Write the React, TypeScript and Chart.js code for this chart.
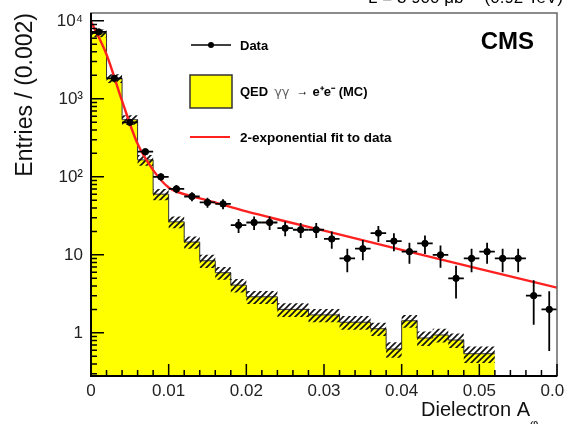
import React, { useEffect, useRef } from "react";
import { Chart, registerables } from "chart.js";

Chart.register(...registerables);

// ---------------- data ----------------
const binWidth = 0.002;
// observed entries per bin (30 bins, 0 .. 0.06)
const dataCounts = [7200, 1830, 500, 210, 100, 70, 56, 47, 45, 24, 26, 26, 22, 21, 21, 16, 9, 12, 19, 15, 11, 14, 10, 5, 9, 11, 9, 9, 3, 2];
// QED MC histogram (bins 0 .. 25, empty afterwards)
const mcValues = [6950, 1830, 540, 165, 60, 26.5, 14.6, 8.4, 5.9, 4.1, 2.9, 2.9, 2.0, 2.0, 1.7, 1.7, 1.37, 1.37, 1.13, 0.62, 1.43, 0.86, 0.94, 0.81, 0.54, 0.54];
const mcErrors = [800, 230, 75, 26, 10, 4.5, 2.6, 1.6, 1.1, 0.8, 0.55, 0.55, 0.4, 0.4, 0.33, 0.33, 0.27, 0.27, 0.22, 0.14, 0.27, 0.18, 0.19, 0.17, 0.13, 0.13];
// 2-exponential fit curve
const fitX = [0, 0.002, 0.004, 0.006, 0.008, 0.010, 0.012, 0.015, 0.020, 0.025, 0.030, 0.040, 0.050, 0.060];
const fitY = [9800, 3700, 940, 265, 122, 73, 60, 50, 36, 27, 20.4, 11.6, 6.6, 3.8];
// axes
const xTickValues = [0, 0.01, 0.02, 0.03, 0.04, 0.05, 0.06];
const xTickLabels = ["0", "0.01", "0.02", "0.03", "0.04", "0.05", "0.06"];
const yTickValues = [1, 10, 100, 1000, 10000];
const yTickLabels = ["1", "10", "10\u00B2", "10\u00B3", "10\u2074"];

const FONT = '"Liberation Sans", Arial, Helvetica, sans-serif';

function stepPoints(vals: number[]) {
  const pts = vals.map((v, i) => ({ x: i * binWidth, y: v }));
  pts.push({ x: vals.length * binWidth, y: vals[vals.length - 1] });
  return pts;
}

function makeHatch(): CanvasPattern | string {
  const c = document.createElement("canvas");
  const s = 6;
  c.width = s;
  c.height = s;
  const g = c.getContext("2d");
  if (!g) return "rgba(0,0,0,0.3)";
  g.strokeStyle = "#111";
  g.lineWidth = 1.6;
  g.beginPath();
  g.moveTo(-1, s + 1);
  g.lineTo(s + 1, -1);
  g.moveTo(-1, 1);
  g.lineTo(1, -1);
  g.moveTo(s - 1, s + 1);
  g.lineTo(s + 1, s - 1);
  g.stroke();
  const p = g.createPattern(c, "repeat");
  return p || "rgba(0,0,0,0.3)";
}

const decorPlugin = {
  id: "decor",
  afterDatasetsDraw(chart: any) {
    const { ctx, chartArea: a, scales } = chart;
    const xs = scales.x;
    const ys = scales.y;
    // error bars for data
    ctx.save();
    ctx.beginPath();
    ctx.rect(a.left, a.top, a.right - a.left, a.bottom - a.top);
    ctx.clip();
    ctx.strokeStyle = "#000";
    ctx.lineWidth = 1.8;
    dataCounts.forEach((n, i) => {
      const xc = xs.getPixelForValue((i + 0.5) * binWidth);
      const xl = xs.getPixelForValue(i * binWidth);
      const xr = xs.getPixelForValue((i + 1) * binWidth);
      const e = Math.sqrt(n);
      const yc = ys.getPixelForValue(n);
      const yt = ys.getPixelForValue(n + e);
      const yb = ys.getPixelForValue(Math.max(n - e, 0.01));
      ctx.beginPath();
      ctx.moveTo(xl, yc);
      ctx.lineTo(xr, yc);
      ctx.moveTo(xc, yt);
      ctx.lineTo(xc, Math.min(yb, a.bottom + 5));
      ctx.stroke();
    });
    ctx.restore();

    // frame
    ctx.save();
    ctx.strokeStyle = "#666";
    ctx.lineWidth = 1.5;
    ctx.strokeRect(a.left, a.top, a.right - a.left, a.bottom - a.top);
    ctx.strokeStyle = "#000";
    ctx.lineWidth = 2;
    ctx.beginPath();
    ctx.moveTo(a.left, a.top);
    ctx.lineTo(a.left, a.bottom);
    ctx.lineTo(a.right, a.bottom);
    ctx.stroke();

    // inner ticks
    ctx.lineWidth = 1.5;
    ctx.beginPath();
    for (let k = -1; k <= 4; k++) {
      for (let m = 1; m <= 9; m++) {
        const v = m * Math.pow(10, k);
        if (v < ys.min || v > ys.max) continue;
        const y = ys.getPixelForValue(v);
        const len = m === 1 ? 13 : 6;
        ctx.moveTo(a.left, y);
        ctx.lineTo(a.left + len, y);
      }
    }
    const nx = Math.round((xs.max - xs.min) / binWidth);
    for (let i = 0; i <= nx; i++) {
      const v = i * binWidth;
      const x = xs.getPixelForValue(v);
      const major = i % 5 === 0;
      ctx.moveTo(x, a.bottom);
      ctx.lineTo(x, a.bottom - (major ? 12 : 6));
    }
    ctx.stroke();
    ctx.restore();
  },
  afterDraw(chart: any) {
    const { ctx, chartArea: a } = chart;
    ctx.save();
    ctx.fillStyle = "#000";
    ctx.textBaseline = "middle";

    // legend: Data
    ctx.strokeStyle = "#000";
    ctx.lineWidth = 1.5;
    ctx.beginPath();
    ctx.moveTo(191, 45);
    ctx.lineTo(231, 45);
    ctx.stroke();
    ctx.beginPath();
    ctx.arc(211, 45, 3, 0, Math.PI * 2);
    ctx.fill();
    ctx.font = `bold 13px ${FONT}`;
    ctx.textAlign = "left";
    ctx.fillText("Data", 240, 46);

    // legend: MC box
    ctx.fillStyle = "#ffff00";
    ctx.fillRect(190, 75, 42, 33);
    ctx.strokeStyle = "#333";
    ctx.lineWidth = 1.5;
    ctx.strokeRect(190, 75, 42, 33);
    ctx.fillStyle = "#000";
    let tx = 240;
    ctx.font = `bold 13px ${FONT}`;
    ctx.fillText("QED", tx, 92);
    tx += ctx.measureText("QED").width + 6;
    ctx.font = `13px "DejaVu Sans", sans-serif`;
    ctx.fillStyle = "#666";
    ctx.fillText("\u03B3\u03B3", tx, 93);
    tx += ctx.measureText("\u03B3\u03B3").width + 7;
    ctx.font = `12px ${FONT}`;
    ctx.fillStyle = "#000";
    ctx.fillText("\u2192", tx, 92);
    tx += ctx.measureText("\u2192").width + 4;
    ctx.font = `bold 13px ${FONT}`;
    ctx.fillText("e\u207Ae\u207B (MC)", tx, 92);

    // legend: fit
    ctx.strokeStyle = "#ff2020";
    ctx.lineWidth = 2;
    ctx.beginPath();
    ctx.moveTo(190, 137);
    ctx.lineTo(230, 137);
    ctx.stroke();
    ctx.font = `bold 13.5px ${FONT}`;
    ctx.fillText("2-exponential fit to data", 240, 138);

    // CMS
    ctx.font = `bold 24px ${FONT}`;
    ctx.textAlign = "right";
    ctx.fillText("CMS", 534, 42);

    // top (cut) title
    ctx.font = `17px ${FONT}`;
    ctx.textBaseline = "alphabetic";
    ctx.textAlign = "right";
    ctx.fillText("L = 3 900 \u03BCb\u207B\u00B9  (0.92 TeV)", 563, 3);

    // y title
    ctx.save();
    ctx.translate(26, a.top);
    ctx.rotate(-Math.PI / 2);
    ctx.font = `23px ${FONT}`;
    ctx.textAlign = "right";
    ctx.textBaseline = "middle";
    ctx.fillStyle = "#111";
    ctx.fillText("Entries / (0.002)", 0, 0);
    ctx.restore();

    // x title
    ctx.font = `20px ${FONT}`;
    ctx.textAlign = "right";
    ctx.textBaseline = "alphabetic";
    ctx.fillStyle = "#111";
    ctx.fillText("Dielectron A", 530, 416);
    ctx.font = `13px ${FONT}`;
    ctx.textAlign = "left";
    ctx.fillText("\u03C6", 530, 428);
    ctx.restore();
  },
};

export default function App() {
  const ref = useRef<HTMLCanvasElement | null>(null);
  useEffect(() => {
    if (!ref.current) return;
    const hatch = makeHatch();
    const mcLow = mcValues.map((v, i) => v - mcErrors[i]);
    const mcHigh = mcValues.map((v, i) => v + mcErrors[i]);
    const chart = new Chart(ref.current, {
      type: "scatter",
      data: {
        datasets: [
          {
            type: "line",
            label: "QED MC",
            data: stepPoints(mcValues),
            stepped: true,
            fill: "start",
            backgroundColor: "#ffff00",
            borderColor: "#333",
            borderWidth: 1,
            pointRadius: 0,
            order: 5,
          },
          {
            type: "line",
            label: "mc low",
            data: stepPoints(mcLow),
            stepped: true,
            fill: false,
            borderColor: "transparent",
            borderWidth: 0,
            pointRadius: 0,
            order: 4,
          },
          {
            type: "line",
            label: "mc high",
            data: stepPoints(mcHigh),
            stepped: true,
            fill: 1,
            backgroundColor: hatch as any,
            borderColor: "transparent",
            borderWidth: 0,
            pointRadius: 0,
            order: 4,
          },
          {
            type: "line",
            label: "fit",
            data: fitX.map((x, i) => ({ x, y: fitY[i] })),
            cubicInterpolationMode: "monotone",
            fill: false,
            borderColor: "#ff2020",
            borderWidth: 2.4,
            pointRadius: 0,
            order: 2,
          },
          {
            type: "scatter",
            label: "Data",
            data: dataCounts.map((n, i) => ({ x: (i + 0.5) * binWidth, y: n })),
            backgroundColor: "#000",
            borderColor: "#000",
            pointRadius: 3.2,
            order: 1,
          },
        ] as any,
      },
      options: {
        animation: false,
        responsive: false,
        devicePixelRatio: 1,
        events: [],
        layout: { padding: { top: 13, right: 8, left: 0, bottom: 0 }, autoPadding: false } as any,
        plugins: { legend: { display: false }, tooltip: { enabled: false } },
        scales: {
          x: {
            type: "linear",
            min: 0,
            max: 0.06,
            grid: { display: false, drawTicks: false },
            border: { display: false },
            afterBuildTicks: (s: any) => {
              s.ticks = xTickValues.map((v) => ({ value: v }));
            },
            afterFit: (s: any) => {
              s.height = 48;
              s.paddingLeft = 0;
              s.paddingRight = 0;
              s.paddingTop = 0;
              s.paddingBottom = 0;
            },
            ticks: {
              padding: 5,
              maxRotation: 0,
              autoSkip: false,
              color: "#222",
              font: { family: FONT, size: 17 },
              callback: (_v: any, i: number) => xTickLabels[i],
            },
          },
          y: {
            type: "logarithmic",
            min: 0.28,
            max: 12600,
            grid: { display: false, drawTicks: false },
            border: { display: false },
            afterBuildTicks: (s: any) => {
              s.ticks = yTickValues.map((v) => ({ value: v }));
            },
            afterFit: (s: any) => {
              s.width = 91;
              s.paddingLeft = 0;
              s.paddingRight = 0;
              s.paddingTop = 0;
              s.paddingBottom = 0;
            },
            ticks: {
              padding: 8,
              autoSkip: false,
              color: "#222",
              font: { family: FONT, size: 17 },
              callback: (_v: any, i: number) => yTickLabels[i],
            },
          },
        },
      } as any,
      plugins: [decorPlugin],
    });
    return () => chart.destroy();
  }, []);
  return (
    <div style={{ position: "absolute", left: 0, top: 0, width: 565, height: 424, background: "#fff" }}>
      <canvas ref={ref} width={565} height={424} style={{ display: "block" }} />
    </div>
  );
}
